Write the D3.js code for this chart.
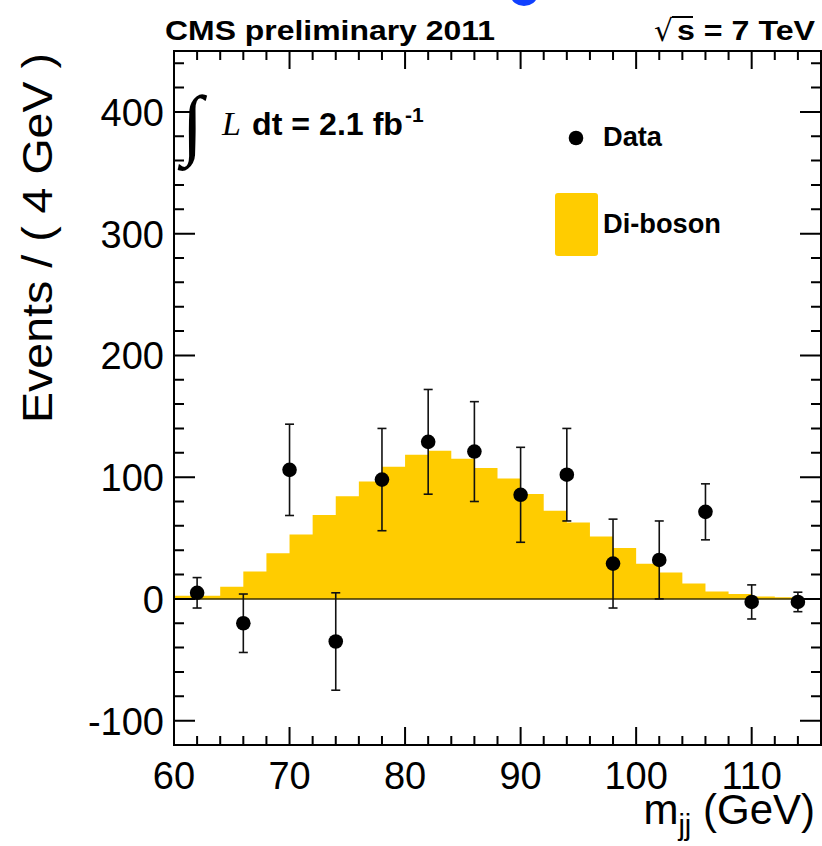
<!DOCTYPE html>
<html>
<head>
<meta charset="utf-8">
<script src="https://cdn.jsdelivr.net/npm/d3@7"></script>
<style>
  body { margin: 0; background: #fff; }
  svg { font-family: 'Liberation Sans', Arial, Helvetica, sans-serif; }
</style>
</head>
<body>
<script>
// Di-boson expectation, 2 GeV steps (lower edge of each step)
const binLow = [60, 62, 64, 66, 68, 70, 72, 74, 76, 78, 80, 82, 84, 86,
                88, 90, 92, 94, 96, 98, 100, 102, 104, 106, 108, 110, 112, 114];
const dibosonValues = [2.5, 2.5, 9.9, 22.5, 37.5, 52.9, 69, 84.4, 96.5, 108.6, 118.4, 121.7, 115.1, 107.5,
                       98.9, 86.1, 72.4, 62.8, 51.3, 41.7, 28.8, 21.6, 12.6, 6.0, 4.1, 1.9, 1.4, 0.8];
const binWidth = 2;

// Data points (4 GeV bins)
const dataX = [62, 66, 70, 74, 78, 82, 86, 90, 94, 98, 102, 106, 110, 114];
const dataY = [5, -20, 106, -35, 98, 129, 121, 85.5, 102, 29, 32, 71.5, -2.5, -2.5];
const dataErr = [12.5, 24, 37.5, 40, 42, 43, 41, 39, 38, 36.5, 32, 23, 14, 8];

const xTicks = [60, 70, 80, 90, 100, 110];
const yTicks = [-100, 0, 100, 200, 300, 400];

const W = 822, H = 846;
const svg = d3.select('body').append('svg')
    .attr('width', W)
    .attr('height', H);

const x = d3.scaleLinear().domain([60, 116]).range([174, 821]);
const y = d3.scaleLinear().domain([-120, 450]).range([745, 51]);

// little blue bit cut off at the top edge
svg.append('ellipse')
    .attr('cx', 524).attr('cy', -4)
    .attr('rx', 13).attr('ry', 10)
    .attr('fill', '#1040ff');

// histogram fill
const steps = binLow.map((b, i) => ({ x: b, v: dibosonValues[i] }));
steps.push({ x: binLow[binLow.length - 1] + binWidth, v: dibosonValues[dibosonValues.length - 1] });
const area = d3.area()
    .curve(d3.curveStepAfter)
    .x(d => x(d.x))
    .y0(y(0))
    .y1(d => y(d.v));
svg.append('path')
    .datum(steps)
    .attr('d', area)
    .attr('fill', '#ffcc00');

// zero line
svg.append('line')
    .attr('x1', x(60)).attr('x2', x(116))
    .attr('y1', y(0)).attr('y2', y(0))
    .attr('stroke', '#3a3000')
    .attr('stroke-width', 1.5);

// error bars
const pts = dataX.map((d, i) => ({ x: d, y: dataY[i], e: dataErr[i] }));
const eb = svg.append('g').attr('stroke', '#111').attr('stroke-width', 1.6);
eb.selectAll('.bar').data(pts).enter().append('line')
    .attr('x1', d => x(d.x)).attr('x2', d => x(d.x))
    .attr('y1', d => y(d.y + d.e)).attr('y2', d => y(d.y - d.e));
eb.selectAll('.capT').data(pts).enter().append('line')
    .attr('x1', d => x(d.x) - 4.5).attr('x2', d => x(d.x) + 4.5)
    .attr('y1', d => y(d.y + d.e)).attr('y2', d => y(d.y + d.e));
eb.selectAll('.capB').data(pts).enter().append('line')
    .attr('x1', d => x(d.x) - 4.5).attr('x2', d => x(d.x) + 4.5)
    .attr('y1', d => y(d.y - d.e)).attr('y2', d => y(d.y - d.e));

svg.selectAll('.pt').data(pts).enter().append('circle')
    .attr('cx', d => x(d.x))
    .attr('cy', d => y(d.y))
    .attr('r', 7.3)
    .attr('fill', '#000');

// frame + ticks on all four sides
const frame = svg.append('g').attr('stroke', '#000').attr('stroke-width', 2).attr('fill', 'none');
frame.append('rect')
    .attr('x', x(60)).attr('y', y(450))
    .attr('width', x(116) - x(60)).attr('height', y(-120) - y(450));

const xMinor = d3.range(62, 116, 2);
const yMinor = d3.range(-100, 450, 20);
frame.selectAll('.xt').data(xMinor).enter().append('path')
    .attr('d', d => {
        const len = d % 10 === 0 ? 18 : 9;
        return `M${x(d)},${y(-120)}v${-len}M${x(d)},${y(450)}v${len}`;
    });
frame.selectAll('.yt').data(yMinor).enter().append('path')
    .attr('d', d => {
        const len = d % 100 === 0 ? 21 : 10;
        return `M${x(60)},${y(d)}h${len}M${x(116)},${y(d)}h${-len}`;
    });

// tick labels
svg.selectAll('.xl').data(xTicks).enter().append('text')
    .attr('x', d => x(d))
    .attr('y', 789)
    .attr('text-anchor', 'middle')
    .attr('font-size', 38)
    .text(d => d);
svg.selectAll('.yl').data(yTicks).enter().append('text')
    .attr('x', 164)
    .attr('y', d => y(d) + 14)
    .attr('text-anchor', 'end')
    .attr('font-size', 38)
    .text(d => d);

// axis titles
svg.append('text')
    .attr('transform', 'translate(52,238) rotate(-90)')
    .attr('text-anchor', 'middle')
    .attr('font-size', 42)
    .attr('textLength', 370)
    .attr('lengthAdjust', 'spacingAndGlyphs')
    .text('Events / ( 4 GeV )');

const xt = svg.append('text')
    .attr('x', 815).attr('y', 824)
    .attr('text-anchor', 'end')
    .attr('font-size', 42);
xt.append('tspan').text('m');
xt.append('tspan').attr('font-size', 29).attr('dy', 11).text('jj');
xt.append('tspan').attr('dy', -11).text(' (GeV)');

// header
svg.append('text')
    .attr('x', 165).attr('y', 40)
    .attr('font-size', 28).attr('font-weight', 'bold')
    .attr('textLength', 330).attr('lengthAdjust', 'spacingAndGlyphs')
    .text('CMS preliminary 2011');
svg.append('text')
    .attr('x', 654).attr('y', 41)
    .attr('font-size', 30)
    .style('font-family', "'DejaVu Sans', sans-serif")
    .text('\u221A');
svg.append('line')
    .attr('x1', 672).attr('x2', 693)
    .attr('y1', 17).attr('y2', 17)
    .attr('stroke', '#000').attr('stroke-width', 2);
svg.append('text')
    .attr('x', 677).attr('y', 40)
    .attr('font-size', 28).attr('font-weight', 'bold')
    .attr('textLength', 138).attr('lengthAdjust', 'spacingAndGlyphs')
    .text('s = 7 TeV');

// luminosity
svg.append('text')
    .attr('x', 182).attr('y', 150)
    .attr('font-size', 78)
    .style('font-family', "'Liberation Serif', 'DejaVu Serif', serif")
    .text('\u222B');
svg.append('text')
    .attr('x', 222).attr('y', 135)
    .attr('font-size', 34)
    .attr('font-style', 'italic')
    .style('font-family', "'Liberation Serif', 'Times New Roman', serif")
    .text('L');
svg.append('text')
    .attr('x', 252).attr('y', 135)
    .attr('font-size', 32).attr('font-weight', 'bold')
    .attr('textLength', 151).attr('lengthAdjust', 'spacingAndGlyphs')
    .text('dt = 2.1 fb');
svg.append('text')
    .attr('x', 405).attr('y', 122)
    .attr('font-size', 21).attr('font-weight', 'bold')
    .text('-1');

// legend
svg.append('circle')
    .attr('cx', 576).attr('cy', 138).attr('r', 7.3)
    .attr('fill', '#000');
svg.append('text')
    .attr('x', 603).attr('y', 146)
    .attr('font-size', 27).attr('font-weight', 'bold')
    .attr('textLength', 59).attr('lengthAdjust', 'spacingAndGlyphs')
    .text('Data');
svg.append('rect')
    .attr('x', 555).attr('y', 193)
    .attr('width', 43).attr('height', 63)
    .attr('rx', 3)
    .attr('fill', '#ffcc00');
svg.append('text')
    .attr('x', 603).attr('y', 233)
    .attr('font-size', 27).attr('font-weight', 'bold')
    .attr('textLength', 118).attr('lengthAdjust', 'spacingAndGlyphs')
    .text('Di-boson');
</script>
</body>
</html>
